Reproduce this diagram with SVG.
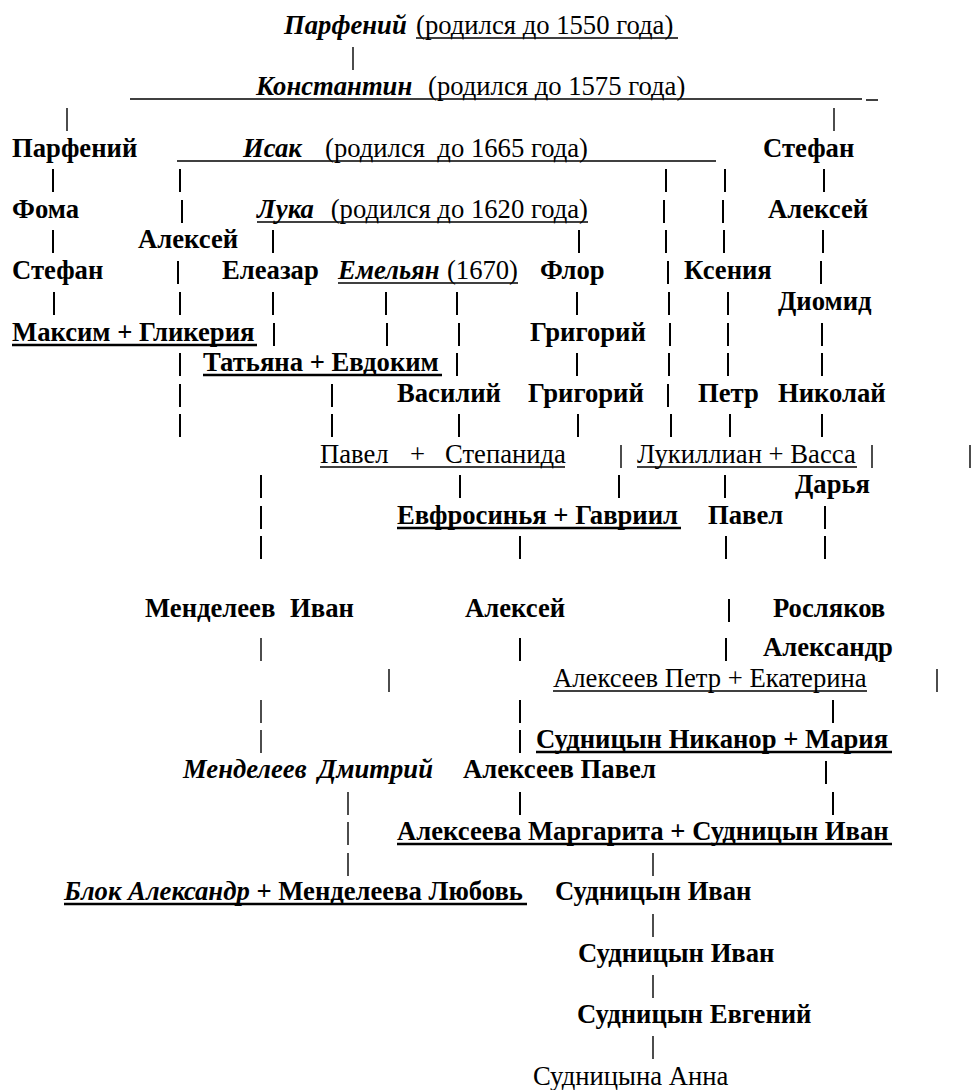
<svg xmlns="http://www.w3.org/2000/svg" width="973" height="1090" viewBox="0 0 973 1090">
<style>
text{font-family:"Liberation Serif","Times New Roman",serif;font-size:26.67px;fill:#000}
.b{font-weight:bold}
.bi{font-weight:bold;font-style:italic}
.r{font-weight:normal}
.ul{stroke:#000;stroke-width:2.4}
.ur{stroke:#000;stroke-width:1.5}
#connectors line{stroke:#000;stroke-width:2}
#connectors .t{stroke-width:1.4}
</style>
<rect width="973" height="1090" fill="#fff"/>
<g id="connectors">
<line class="t" x1="353" y1="47" x2="353" y2="70"/>
<line class="t" x1="67" y1="108" x2="67" y2="131"/>
<line class="t" x1="834" y1="108" x2="834" y2="131"/>
<line x1="53" y1="169" x2="53" y2="192"/><line x1="180" y1="169" x2="180" y2="192"/><line x1="666" y1="169" x2="666" y2="192"/><line x1="725" y1="169" x2="725" y2="192"/><line x1="824" y1="169" x2="824" y2="192"/>
<line x1="182" y1="200" x2="182" y2="223"/><line x1="664" y1="200" x2="664" y2="223"/><line x1="723" y1="200" x2="723" y2="223"/>
<line x1="53" y1="230" x2="53" y2="253"/><line x1="273" y1="230" x2="273" y2="253"/><line x1="579" y1="230" x2="579" y2="253"/><line x1="666" y1="230" x2="666" y2="253"/><line x1="724" y1="230" x2="724" y2="253"/><line x1="823" y1="230" x2="823" y2="253"/>
<line x1="178" y1="261" x2="178" y2="284"/><line x1="668" y1="261" x2="668" y2="284"/><line x1="821" y1="261" x2="821" y2="284"/>
<line x1="54" y1="292" x2="54" y2="315"/><line x1="180" y1="292" x2="180" y2="315"/><line x1="273" y1="292" x2="273" y2="315"/><line x1="386" y1="292" x2="386" y2="315"/><line x1="457" y1="292" x2="457" y2="315"/><line x1="577" y1="292" x2="577" y2="315"/><line x1="669" y1="292" x2="669" y2="315"/><line x1="728" y1="292" x2="728" y2="315"/>
<line x1="274" y1="323" x2="274" y2="346"/><line x1="387" y1="323" x2="387" y2="346"/><line x1="459" y1="323" x2="459" y2="346"/><line x1="670" y1="323" x2="670" y2="346"/><line x1="728" y1="323" x2="728" y2="346"/><line x1="822" y1="323" x2="822" y2="346"/>
<line x1="180" y1="353" x2="180" y2="376"/><line x1="457" y1="353" x2="457" y2="376"/><line x1="577" y1="353" x2="577" y2="376"/><line x1="669" y1="353" x2="669" y2="376"/><line x1="728" y1="353" x2="728" y2="376"/><line x1="822" y1="353" x2="822" y2="376"/>
<line x1="180" y1="384" x2="180" y2="407"/><line x1="332" y1="384" x2="332" y2="407"/><line x1="668" y1="384" x2="668" y2="407"/>
<line x1="180" y1="414" x2="180" y2="437"/><line x1="332" y1="414" x2="332" y2="437"/><line x1="459" y1="414" x2="459" y2="437"/><line x1="578" y1="414" x2="578" y2="437"/><line x1="671" y1="414" x2="671" y2="437"/><line x1="730" y1="414" x2="730" y2="437"/><line x1="822" y1="414" x2="822" y2="437"/>
<line class="t" x1="621" y1="445" x2="621" y2="468"/><line class="t" x1="872" y1="445" x2="872" y2="468"/><line class="t" x1="970" y1="445" x2="970" y2="468"/>
<line x1="261" y1="475" x2="261" y2="498"/><line x1="460" y1="475" x2="460" y2="498"/><line x1="619" y1="475" x2="619" y2="498"/><line x1="725" y1="475" x2="725" y2="498"/>
<line x1="261" y1="506" x2="261" y2="529"/><line x1="825" y1="506" x2="825" y2="529"/>
<line x1="261" y1="536" x2="261" y2="559"/><line x1="520" y1="536" x2="520" y2="559"/><line x1="726" y1="536" x2="726" y2="559"/><line x1="825" y1="536" x2="825" y2="559"/>
<line x1="729" y1="599" x2="729" y2="622"/>
<line class="t" x1="261" y1="638" x2="261" y2="661"/><line x1="520" y1="638" x2="520" y2="661"/><line x1="726" y1="638" x2="726" y2="661"/>
<line class="t" x1="389" y1="669" x2="389" y2="692"/><line class="t" x1="937" y1="669" x2="937" y2="692"/>
<line class="t" x1="261" y1="700" x2="261" y2="723"/><line x1="520" y1="700" x2="520" y2="723"/><line x1="833" y1="700" x2="833" y2="723"/>
<line class="t" x1="261" y1="730" x2="261" y2="753"/><line x1="520" y1="730" x2="520" y2="753"/>
<line x1="826" y1="761" x2="826" y2="784"/>
<line class="t" x1="348" y1="792" x2="348" y2="815"/><line x1="520" y1="792" x2="520" y2="815"/><line x1="833" y1="792" x2="833" y2="815"/>
<line class="t" x1="348" y1="822" x2="348" y2="845"/>
<line class="t" x1="348" y1="853" x2="348" y2="876"/><line class="t" x1="653" y1="853" x2="653" y2="876"/>
<line class="t" x1="653" y1="914" x2="653" y2="937"/>
<line class="t" x1="653" y1="975" x2="653" y2="998"/>
<line class="t" x1="653" y1="1036" x2="653" y2="1059"/>
</g>
<g id="n-parfeniy1"><text x="284" y="34" class="bi">Парфений</text><text x="416" y="34" class="r">(родился до 1550 года)</text><line class="ur" x1="416" y1="38" x2="678" y2="38"/></g>
<g id="n-konstantin"><text x="256" y="95" class="bi">Константин</text><text x="428" y="95" class="r">(родился до 1575 года)</text><line class="ur" x1="130" y1="99" x2="862" y2="99"/><line class="ur" x1="866" y1="100" x2="878" y2="100"/></g>
<g id="n-parfeniy2"><text x="12" y="157" class="b">Парфений</text></g>
<g id="n-isak"><text x="243" y="157" class="bi">Исак</text><text x="325" y="157" class="r">(родился</text><text x="588" y="157" class="r" text-anchor="end">до 1665 года)</text><line class="ur" x1="177" y1="161" x2="716" y2="161"/></g>
<g id="n-stefan1"><text x="763" y="157" class="b">Стефан</text></g>
<g id="n-foma"><text x="12" y="218" class="b">Фома</text></g>
<g id="n-luka"><text x="257" y="218" class="bi">Лука</text><text x="588" y="218" class="r" text-anchor="end">(родился до 1620 года)</text><line class="ur" x1="257" y1="222" x2="588" y2="222"/></g>
<g id="n-aleksey1"><text x="768" y="218" class="b">Алексей</text></g>
<g id="n-aleksey2"><text x="138" y="248" class="b">Алексей</text></g>
<g id="n-stefan2"><text x="12" y="279" class="b">Стефан</text></g>
<g id="n-eleazar"><text x="222" y="279" class="b">Елеазар</text></g>
<g id="n-emelyan"><text x="338" y="279" class="bi">Емельян</text><text x="518" y="279" class="r" text-anchor="end">(1670)</text><line class="ur" x1="338" y1="283" x2="518" y2="283"/></g>
<g id="n-flor"><text x="540" y="279" class="b">Флор</text></g>
<g id="n-kseniya"><text x="684" y="279" class="b">Ксения</text></g>
<g id="n-diomid"><text x="778" y="310" class="b">Диомид</text></g>
<g id="n-maksim"><text x="12" y="341" class="b">Максим + Гликерия</text><line class="ul" x1="12" y1="345" x2="257" y2="345"/></g>
<g id="n-grigoriy1"><text x="530" y="341" class="b">Григорий</text></g>
<g id="n-tatyana"><text x="203" y="371" class="b">Татьяна + Евдоким</text><line class="ul" x1="203" y1="375" x2="442" y2="375"/></g>
<g id="n-vasiliy"><text x="397" y="402" class="b">Василий</text></g>
<g id="n-grigoriy2"><text x="528" y="402" class="b">Григорий</text></g>
<g id="n-petr"><text x="698" y="402" class="b">Петр</text></g>
<g id="n-nikolay"><text x="778" y="402" class="b">Николай</text></g>
<g id="n-pavel-stepanida"><text x="320" y="463" class="r">Павел</text><text x="410" y="463" class="r">+</text><text x="445" y="463" class="r">Степанида</text><line class="ur" x1="320" y1="467" x2="565" y2="467"/></g>
<g id="n-lukillian"><text x="637" y="463" class="r">Лукиллиан + Васса</text><line class="ur" x1="637" y1="467" x2="857" y2="467"/></g>
<g id="n-darya"><text x="795" y="493" class="b">Дарья</text></g>
<g id="n-evfrosinya"><text x="397" y="524" class="b">Евфросинья + Гавриил</text><line class="ul" x1="397" y1="528" x2="681" y2="528"/></g>
<g id="n-pavel"><text x="708" y="524" class="b">Павел</text></g>
<g id="n-mendeleev-ivan"><text x="145" y="617" class="b">Менделеев</text><text x="290" y="617" class="b">Иван</text></g>
<g id="n-aleksey3"><text x="465" y="617" class="b">Алексей</text></g>
<g id="n-roslyakov"><text x="773" y="617" class="b">Росляков</text><text x="763" y="656" class="b">Александр</text></g>
<g id="n-alekseev-petr"><text x="553" y="687" class="r">Алексеев Петр + Екатерина</text><line class="ur" x1="553" y1="691" x2="867" y2="691"/></g>
<g id="n-sudnitsyn-nikanor"><text x="536" y="748" class="b">Судницын Никанор + Мария</text><line class="ul" x1="536" y1="752" x2="892" y2="752"/></g>
<g id="n-mendeleev-dmitriy"><text x="183" y="778" class="bi">Менделеев</text><text x="318" y="778" class="bi">Дмитрий</text></g>
<g id="n-alekseev-pavel"><text x="463" y="778" class="b">Алексеев Павел</text></g>
<g id="n-margarita"><text x="397" y="840" class="b">Алексеева Маргарита + Судницын Иван</text><line class="ul" x1="397" y1="844" x2="892" y2="844"/></g>
<g id="n-blok"><text x="64" y="900" class="b"><tspan class="bi">Блок Александр</tspan> + Менделеева Любовь</text><line class="ul" x1="64" y1="904" x2="527" y2="904"/></g>
<g id="n-sudnitsyn-ivan1"><text x="555" y="900" class="b">Судницын Иван</text></g>
<g id="n-sudnitsyn-ivan2"><text x="578" y="962" class="b">Судницын Иван</text></g>
<g id="n-sudnitsyn-evgeniy"><text x="577" y="1023" class="b">Судницын Евгений</text></g>
<g id="n-sudnitsyna-anna"><text x="533" y="1085" class="r">Судницына Анна</text></g>
</svg>
